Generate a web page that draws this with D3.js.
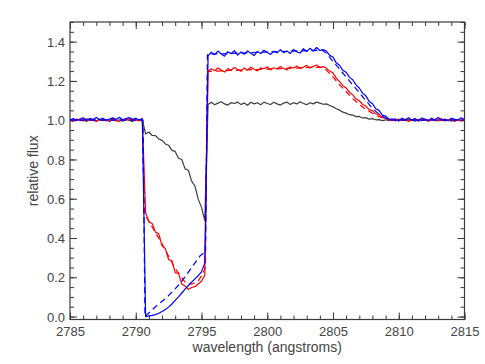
<!DOCTYPE html>
<html>
<head>
<meta charset="utf-8">
<script src="https://cdn.jsdelivr.net/npm/d3@7"></script>
<style>
  body { margin: 0; background: #fff; }
  text { font-family: "Liberation Sans", Arial, Helvetica, sans-serif; fill: #444; }
  .axis path, .axis line { stroke: #3a3a3a; }
</style>
</head>
<body>
<div id="chart"></div>
<script>
// wavelength grid shared by the three observed spectra (angstroms)
let wave = [
  2785.00, 2785.25, 2785.50, 2785.75, 2786.00, 2786.25, 2786.50, 2786.75, 2787.00, 2787.25,
  2787.50, 2787.75, 2788.00, 2788.25, 2788.50, 2788.75, 2789.00, 2789.25, 2789.50, 2789.75,
  2790.00, 2790.25, 2790.50, 2790.75, 2791.00, 2791.25, 2791.50, 2791.75, 2792.00, 2792.25,
  2792.50, 2792.75, 2793.00, 2793.25, 2793.50, 2793.75, 2794.00, 2794.25, 2794.50, 2794.75,
  2795.00, 2795.25, 2795.50, 2795.75, 2796.00, 2796.25, 2796.50, 2796.75, 2797.00, 2797.25,
  2797.50, 2797.75, 2798.00, 2798.25, 2798.50, 2798.75, 2799.00, 2799.25, 2799.50, 2799.75,
  2800.00, 2800.25, 2800.50, 2800.75, 2801.00, 2801.25, 2801.50, 2801.75, 2802.00, 2802.25,
  2802.50, 2802.75, 2803.00, 2803.25, 2803.50, 2803.75, 2804.00, 2804.25, 2804.50, 2804.75,
  2805.00, 2805.25, 2805.50, 2805.75, 2806.00, 2806.25, 2806.50, 2806.75, 2807.00, 2807.25,
  2807.50, 2807.75, 2808.00, 2808.25, 2808.50, 2808.75, 2809.00, 2809.25, 2809.50, 2809.75,
  2810.00, 2810.25, 2810.50, 2810.75, 2811.00, 2811.25, 2811.50, 2811.75, 2812.00, 2812.25,
  2812.50, 2812.75, 2813.00, 2813.25, 2813.50, 2813.75, 2814.00, 2814.25, 2814.50, 2814.75,
  2815.00
];

let blackFlux = [
  1.004, 0.996, 1.005, 0.998, 1.002, 0.994, 1.004, 1.000, 0.996, 1.006,
  0.998, 1.002, 0.993, 1.004, 0.997, 1.002, 0.995, 1.005, 0.999, 0.994,
  1.003, 0.997, 1.001,
  0.930, 0.940, 0.922, 0.921, 0.904, 0.897, 0.879, 0.872, 0.846, 0.841,
  0.806, 0.800, 0.752, 0.745, 0.690, 0.665, 0.598, 0.556, 0.488,
  1.080, 1.091, 1.079, 1.087, 1.094, 1.083, 1.077, 1.089, 1.085, 1.092,
  1.080, 1.087, 1.076, 1.091, 1.083, 1.089, 1.079, 1.092, 1.085, 1.080,
  1.091, 1.083, 1.077, 1.087, 1.092, 1.080, 1.089, 1.083, 1.094, 1.085,
  1.079, 1.089, 1.083, 1.092, 1.087, 1.081,
  1.083, 1.075, 1.068, 1.058, 1.051, 1.041, 1.036, 1.028, 1.026, 1.018,
  1.019, 1.011, 1.013, 1.005, 1.008, 1.002, 1.003, 0.998, 1.002, 0.997, 1.001,
  1.003, 0.996, 1.004, 0.998, 1.005, 1.000, 0.995, 1.004, 0.998, 1.002,
  0.996, 1.005, 1.000, 0.996, 1.004, 0.998, 1.002, 0.995, 1.004, 1.000,
  0.998, 1.002
];

let redFlux = [
  1.002, 0.994, 1.006, 1.000, 0.996, 1.008, 0.998, 1.004, 0.994, 1.002,
  1.006, 0.996, 1.000, 1.008, 0.998, 0.994, 1.004, 1.000, 1.006, 0.996,
  1.002, 0.998, 1.004,
  0.530, 0.482, 0.474, 0.430, 0.422, 0.360, 0.346, 0.290, 0.284, 0.224,
  0.220, 0.166, 0.156, 0.138, 0.148, 0.152, 0.166, 0.180, 0.210,
  1.249, 1.262, 1.252, 1.266, 1.255, 1.245, 1.263, 1.254, 1.268, 1.258,
  1.249, 1.265, 1.256, 1.270, 1.259, 1.251, 1.266, 1.262, 1.271, 1.256,
  1.267, 1.262, 1.273, 1.263, 1.256, 1.271, 1.266, 1.276, 1.263, 1.270,
  1.279, 1.266, 1.274, 1.281, 1.268, 1.273,
  1.264, 1.250, 1.240, 1.214, 1.196, 1.176, 1.164, 1.142, 1.129, 1.108,
  1.099, 1.080, 1.072, 1.054, 1.049, 1.032, 1.030, 1.013, 1.012, 1.002, 1.003,
  0.996, 1.006, 0.998, 1.004, 0.994, 1.002, 1.008, 0.996, 1.000, 1.006,
  0.994, 1.004, 0.998, 1.002, 1.008, 0.996, 1.000, 1.004, 0.994, 1.002,
  0.998, 1.004
];

let blueFlux = [
  1.001, 1.008, 0.998, 1.006, 1.012, 1.000, 1.008, 1.004, 1.014, 1.002,
  1.010, 1.000, 1.006, 1.012, 1.004, 1.015, 1.002, 1.008, 1.013, 1.004,
  1.010, 1.002, 1.008,
  0.000, 0.003, 0.006, 0.010, 0.017, 0.026, 0.036, 0.048, 0.064, 0.082,
  0.100, 0.120, 0.140, 0.158, 0.175, 0.192, 0.208, 0.228, 0.272,
  1.328, 1.346, 1.334, 1.352, 1.337, 1.326, 1.349, 1.339, 1.354, 1.331,
  1.347, 1.336, 1.353, 1.341, 1.329, 1.350, 1.339, 1.356, 1.346, 1.335,
  1.351, 1.343, 1.359, 1.344, 1.352, 1.340, 1.360, 1.348, 1.342, 1.364,
  1.350, 1.366, 1.352, 1.370, 1.355, 1.360,
  1.352, 1.330, 1.322, 1.292, 1.280, 1.254, 1.244, 1.218, 1.206, 1.180,
  1.164, 1.138, 1.124, 1.096, 1.084, 1.058, 1.050, 1.026, 1.021, 1.005, 1.006,
  1.006, 0.997, 1.010, 1.002, 1.013, 1.000, 1.008, 0.996, 1.011, 1.004,
  0.999, 1.010, 1.002, 1.014, 1.000, 1.006, 0.997, 1.010, 1.004, 1.001,
  1.012, 1.002
];

// smooth model spectra (dashed)
let redModelWave = [2785.0, 2790.5, 2790.65, 2791.0, 2792.0, 2793.0, 2793.75, 2794.25, 2794.75, 2795.1, 2795.3,
  2795.45, 2798.0, 2800.0, 2802.0, 2804.0, 2804.2, 2804.5, 2805.0, 2805.5, 2806.0, 2806.5, 2807.0,
  2807.5, 2808.0, 2808.5, 2809.0, 2809.5, 2815.0];
let redModelFlux = [1.0, 1.0, 0.52, 0.485, 0.37, 0.245, 0.175, 0.165, 0.18, 0.22, 0.25,
  1.248, 1.255, 1.26, 1.265, 1.27, 1.268, 1.255, 1.22, 1.18, 1.145, 1.11, 1.08,
  1.055, 1.035, 1.018, 1.006, 1.0, 1.0];

let blueModelWave = [2785.0, 2790.55, 2790.7, 2791.5, 2792.4, 2793.4, 2794.9, 2795.3,
  2795.45, 2796.0, 2798.0, 2800.0, 2802.0, 2804.0, 2804.2, 2804.5, 2805.0, 2805.5, 2806.0,
  2806.5, 2807.0, 2807.5, 2808.0, 2808.5, 2809.0, 2809.5, 2815.0];
let blueModelFlux = [1.0, 1.0, 0.0, 0.05, 0.10, 0.17, 0.31, 0.33,
  1.335, 1.337, 1.342, 1.347, 1.352, 1.356, 1.356, 1.34, 1.30, 1.26, 1.22,
  1.18, 1.14, 1.10, 1.06, 1.03, 1.01, 1.0, 1.0];

let xMajor = [2785, 2790, 2795, 2800, 2805, 2810, 2815];
let yMajor = [0.0, 0.2, 0.4, 0.6, 0.8, 1.0, 1.2, 1.4];

let width = 485;
let height = 364;
let margin = ({top: 22, right: 20.5, bottom: 44.5, left: 70});

let svg = d3.select("#chart")
    .append("svg")
    .attr("width", width)
    .attr("height", height);

let xScale = d3.scaleLinear()
    .domain([2785, 2815])
    .range([margin.left, width - margin.right]);

let yScale = d3.scaleLinear()
    .domain([-0.015, 1.5])
    .range([height - margin.bottom, margin.top]);

let xMinor = d3.range(2785, 2815.5, 1);
let yMinor = d3.range(0, 1.5001, 0.05).map(v => +v.toFixed(2));

svg.append("defs").append("clipPath")
    .attr("id", "plotclip")
    .append("rect")
    .attr("x", margin.left)
    .attr("y", margin.top)
    .attr("width", width - margin.left - margin.right)
    .attr("height", height - margin.top - margin.bottom);

// minor + major ticks on all four sides, pointing inwards
function addAxis(axisFn, scale, values, size, transform, fmt, pad) {
    let ax = axisFn(scale).tickValues(values).tickSize(size).tickSizeOuter(0)
        .tickPadding(pad || 3).tickFormat(fmt || "");
    let g = svg.append("g")
        .attr("class", "axis")
        .attr("transform", transform)
        .call(ax);
    g.select(".domain").remove();
    return g;
}

let bottomY = height - margin.bottom;
let rightX = width - margin.right;

addAxis(d3.axisBottom, xScale, xMinor, -4, "translate(0," + bottomY + ")");
addAxis(d3.axisTop, xScale, xMinor, -4, "translate(0," + margin.top + ")");
addAxis(d3.axisLeft, yScale, yMinor, -4, "translate(" + margin.left + ",0)");
addAxis(d3.axisRight, yScale, yMinor, -4, "translate(" + rightX + ",0)");

let xLab = addAxis(d3.axisBottom, xScale, xMajor, -7, "translate(0," + bottomY + ")", d3.format("d"), 7);
addAxis(d3.axisTop, xScale, xMajor, -7, "translate(0," + margin.top + ")");
let yLab = addAxis(d3.axisLeft, yScale, yMajor, -7, "translate(" + margin.left + ",0)", d3.format(".1f"), 5);
addAxis(d3.axisRight, yScale, yMajor, -7, "translate(" + rightX + ",0)");

svg.selectAll(".axis line").attr("stroke-width", 1);
xLab.selectAll("text").style("font-size", "13px");
yLab.selectAll("text").style("font-size", "13px").attr("dy", "0.36em");

// plot frame
svg.append("rect")
    .attr("x", margin.left)
    .attr("y", margin.top)
    .attr("width", rightX - margin.left)
    .attr("height", bottomY - margin.top)
    .attr("fill", "none")
    .attr("stroke", "#3a3a3a")
    .attr("stroke-width", 1.2);

let line = d3.line()
    .x(d => xScale(d[0]))
    .y(d => yScale(d[1]));

let plot = svg.append("g").attr("clip-path", "url(#plotclip)");

let series = [
    {wave: wave, flux: blackFlux, color: "#3c3c3c", dash: null},
    {wave: redModelWave, flux: redModelFlux, color: "#ff0000", dash: "6,4"},
    {wave: wave, flux: redFlux, color: "#ff0000", dash: null},
    {wave: blueModelWave, flux: blueModelFlux, color: "#0000ff", dash: "6,4"},
    {wave: wave, flux: blueFlux, color: "#0000ff", dash: null}
];

series.forEach(s => {
    plot.append("path")
        .datum(d3.zip(s.wave, s.flux))
        .attr("fill", "none")
        .attr("stroke", s.color)
        .attr("stroke-width", 1.2)
        .attr("stroke-linejoin", "round")
        .attr("stroke-dasharray", s.dash)
        .attr("d", line);
});

// axis titles
svg.append("text")
    .attr("x", (margin.left + rightX) / 2)
    .attr("y", 352)
    .style("text-anchor", "middle")
    .style("font-size", "14px")
    .text("wavelength (angstroms)");

svg.append("text")
    .attr("transform", "translate(38," + ((margin.top + bottomY) / 2) + ") rotate(-90)")
    .style("text-anchor", "middle")
    .style("font-size", "14px")
    .text("relative flux");
</script>
</body>
</html>
